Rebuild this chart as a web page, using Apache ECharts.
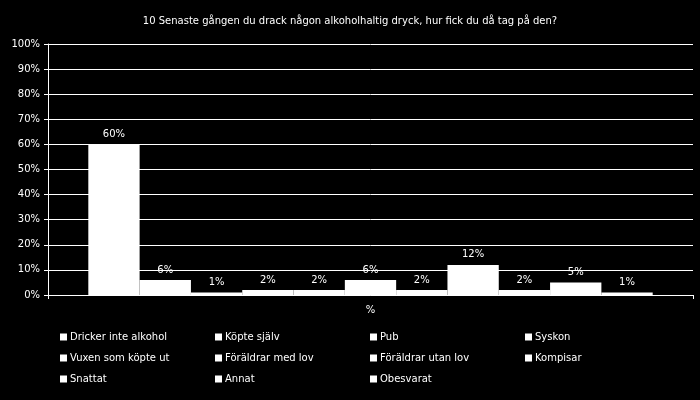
<!DOCTYPE html>
<html>
<head>
<meta charset="utf-8">
<script src="https://cdn.jsdelivr.net/npm/echarts@6/dist/echarts.min.js"></script>
<style>
    body{
        margin: 0;
        background: #000;
    }
    #main{
        width: 700px;
        height: 400px;
    }
</style>
</head>
<body>
<div id="main"></div>
<script>
    var titleText = '10 Senaste gången du drack någon alkoholhaltig dryck, hur fick du då tag på den?';
    var categories = ['%'];
    var seriesNames = ['Dricker inte alkohol', 'Köpte själv', 'Pub', 'Syskon',
        'Vuxen som köpte ut', 'Föräldrar med lov', 'Föräldrar utan lov', 'Kompisar',
        'Snattat', 'Annat', 'Obesvarat'];
    var values = [60, 6, 1, 2, 2, 6, 2, 12, 2, 5, 1];
    var yTicks = [0, 10, 20, 30, 40, 50, 60, 70, 80, 90, 100];

    var fontName = 'DejaVu Sans';
    var chartDom = document.getElementById('main');
    var myChart = echarts.init(chartDom);

    var series = [];
    seriesNames.forEach(function (name, i) {
        series.push({
            name: name,
            type: 'bar',
            barGap: '0%',
            barCategoryGap: '12.5%',
            itemStyle: {
                color: '#fff'
            },
            label: {
                show: true,
                position: 'top',
                distance: 5,
                color: '#fff',
                fontFamily: fontName,
                fontSize: 10,
                formatter: '{c}%'
            },
            data: [values[i]]
        });
    });

    // legend in 4 columns, 3 rows
    var legends = [];
    var colLeft = [55, 210, 365, 520];
    colLeft.forEach(function (left, c) {
        var names = [];
        for (var k = c; k < seriesNames.length; k += 4) {
            names.push(seriesNames[k]);
        }
        legends.push({
            data: names,
            orient: 'vertical',
            left: left,
            top: 327,
            itemGap: 11,
            itemWidth: 7,
            itemHeight: 7,
            icon: 'rect',
            textStyle: {
                color: '#fff',
                fontFamily: fontName,
                fontSize: 10,
                padding: [0, 0, 0, -2]
            }
        });
    });

    var option = {
        backgroundColor: '#000',
        animation: false,
        title: {
            text: titleText,
            left: 'center',
            top: 11,
            textStyle: {
                color: '#fff',
                fontFamily: fontName,
                fontSize: 10,
                fontWeight: 'normal'
            }
        },
        legend: legends,
        grid: {
            left: 48,
            right: 7,
            top: 44,
            bottom: 105
        },
        xAxis: {
            type: 'category',
            data: categories,
            axisLine: {
                lineStyle: { color: '#fff' }
            },
            axisTick: {
                show: true,
                length: 4,
                lineStyle: { color: '#fff' }
            },
            axisLabel: {
                color: '#fff',
                fontFamily: fontName,
                fontSize: 10,
                margin: 10
            }
        },
        yAxis: {
            type: 'value',
            min: yTicks[0],
            max: yTicks[yTicks.length - 1],
            interval: 10,
            axisLine: {
                show: true,
                lineStyle: { color: '#fff' }
            },
            axisTick: {
                show: true,
                length: 4,
                lineStyle: { color: '#fff' }
            },
            splitLine: {
                lineStyle: { color: '#fff', width: 1 }
            },
            axisLabel: {
                color: '#fff',
                fontFamily: fontName,
                fontSize: 10,
                margin: 8,
                formatter: '{value}%'
            }
        },
        series: series
    };

    option && myChart.setOption(option);
</script>
</body>
</html>
